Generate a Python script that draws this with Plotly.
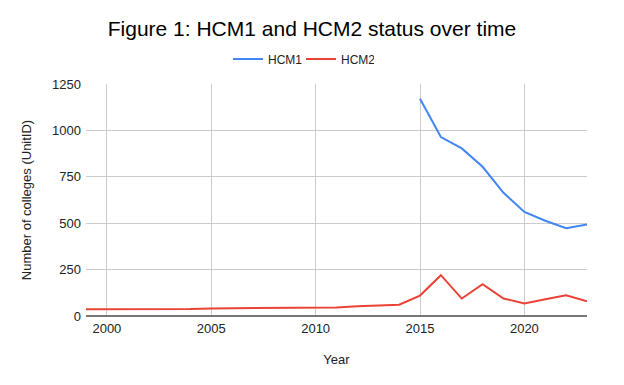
import plotly.graph_objects as go

years = list(range(1999, 2024))
hcm1_years = list(range(2015, 2024))
hcm1 = [1170, 964, 903, 804, 664, 561, 513, 473, 493]
hcm2 = [36, 36, 36, 37, 38, 38, 41, 42, 44, 45, 44, 45, 46, 52, 57, 61, 110, 220, 94, 171, 94, 68, 90, 112, 79]
x_ticks = [2000, 2005, 2010, 2015, 2020]
y_ticks = [0, 250, 500, 750, 1000, 1250]

fig = go.Figure()
fig.add_trace(go.Scatter(x=hcm1_years, y=hcm1, mode="lines", name="HCM1",
                         line=dict(color="#4285F4", width=2)))
fig.add_trace(go.Scatter(x=years, y=hcm2, mode="lines", name="HCM2",
                         line=dict(color="#EA4335", width=2)))

fig.update_layout(
    width=624, height=385,
    paper_bgcolor="white", plot_bgcolor="white",
    margin=dict(l=86, r=37, t=84, b=69, autoexpand=False),
    font=dict(family="Liberation Sans, Arial, sans-serif", color="#222", size=12),
    title=dict(text="Figure 1: HCM1 and HCM2 status over time", x=0.5, xanchor="center",
               y=1 - 29/385, yanchor="middle",
               font=dict(size=21, color="#000")),
    legend=dict(orientation="h", x=228/624, xanchor="left", xref="container",
                y=1 - 59/385, yref="container",
                yanchor="middle", font=dict(size=12, color="#222"),
                itemwidth=30, entrywidth=28, entrywidthmode="pixels"),
    showlegend=True,
)
fig.update_xaxes(range=[1999, 2023], tickvals=x_ticks, showgrid=True, gridcolor="#cccccc",
                 gridwidth=1, zeroline=False, showline=False, ticks="", automargin=False,
                 ticklabelstandoff=3,
                 title=dict(text="Year", font=dict(size=13, color="#222"), standoff=19),
                 tickfont=dict(size=13, color="#222"))
fig.update_yaxes(range=[0, 1250], tickvals=y_ticks, showgrid=True, gridcolor="#cccccc",
                 gridwidth=1, zeroline=True, zerolinecolor="#777777", zerolinewidth=2,
                 showline=False, ticks="", automargin=False, ticklabelstandoff=4,
                 title=dict(text="Number of colleges (UnitID)", font=dict(size=13, color="#222"), standoff=17),
                 tickfont=dict(size=13, color="#222"))

fig.write_html("out.html", config={"displayModeBar": False},
               post_script="document.body.style.margin='0';")
